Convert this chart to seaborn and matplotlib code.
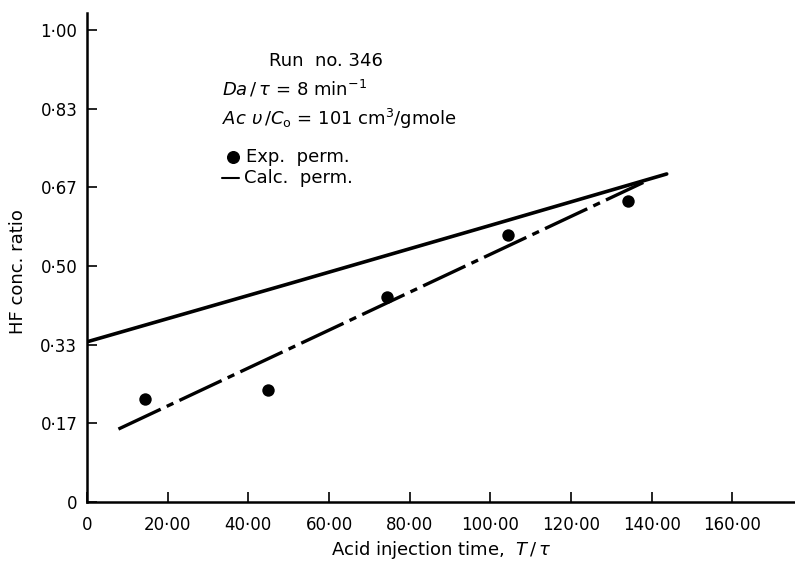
import numpy as np
import pandas as pd
import matplotlib
matplotlib.use("Agg")
import matplotlib.pyplot as plt
import seaborn as sns

# ---- data ----
exp_time = [14.4, 44.8, 74.3, 104.4, 134.2]
exp_ratio = [0.218, 0.237, 0.435, 0.565, 0.638]

calc_time = [0.0, 50.0, 100.0, 143.7]
calc_ratio = [0.339, 0.462, 0.586, 0.695]

fit_time = [7.8, 137.9]
fit_ratio = [0.154, 0.677]

x_ticks = [0, 20, 40, 60, 80, 100, 120, 140, 160]
x_tick_labels = ["0", "20·00", "40·00", "60·00", "80·00", "100·00", "120·00", "140·00", "160·00"]
y_ticks = [0, 1/6, 2/6, 3/6, 4/6, 5/6, 1.0]
y_tick_labels = ["0", "0·17", "0·33", "0·50", "0·67", "0·83", "1·00"]

sns.set_style("white")
plt.rcParams["font.family"] = ["DejaVu Sans"]
plt.rcParams["mathtext.fontset"] = "dejavusans"
plt.rcParams["text.color"] = "black"
plt.rcParams["axes.labelcolor"] = "black"
plt.rcParams["xtick.direction"] = "in"
plt.rcParams["ytick.direction"] = "in"
plt.rcParams["xtick.bottom"] = True
plt.rcParams["ytick.left"] = True

fig = plt.figure(figsize=(7.95, 5.67), dpi=100)
ax = fig.add_axes([0.1094, 0.1152, 0.8906, 0.8624])

exp_df = pd.DataFrame({"t": exp_time, "r": exp_ratio})
calc_df = pd.DataFrame({"t": calc_time, "r": calc_ratio})
fit_df = pd.DataFrame({"t": fit_time, "r": fit_ratio})

sns.lineplot(data=calc_df, x="t", y="r", ax=ax, color="black", linewidth=2.6,
             sort=False, estimator=None)
sns.lineplot(data=fit_df, x="t", y="r", ax=ax, color="black", linewidth=2.4,
             sort=False, estimator=None, linestyle=(0, (14, 2.0, 2.2, 2.0)))
sns.scatterplot(data=exp_df, x="t", y="r", ax=ax, color="black", s=80,
                edgecolor="black", linewidth=0, zorder=5)

ax.set_xlim(0, 175.5)
ax.set_ylim(0, 1.037)
ax.set_xticks(x_ticks)
ax.set_xticklabels(x_tick_labels)
ax.set_yticks(y_ticks)
ax.set_yticklabels(y_tick_labels)
ax.tick_params(axis="both", which="major", direction="in", length=7, width=1.2,
               labelsize=12, colors="black", bottom=True, left=True)
ax.tick_params(axis="x", pad=10)
ax.tick_params(axis="y", pad=7)

for s in ["top", "right"]:
    ax.spines[s].set_visible(False)
for s in ["left", "bottom"]:
    ax.spines[s].set_linewidth(1.8)
    ax.spines[s].set_color("black")

ax.set_xlabel(r"Acid injection time,  $\mathit{T}\,/\,\tau$", fontsize=13, labelpad=4)
ax.set_ylabel("HF conc. ratio", fontsize=13, labelpad=6)
ax.yaxis.set_label_coords(-0.085, 0.47)

# annotation block
fs = 13
ax.text(45, 0.935, "Run  no. 346", fontsize=fs, ha="left", va="center")
ax.text(33.5, 0.875, r"$\mathit{Da}\,/\,\tau$ = 8 min$^{-1}$", fontsize=fs, ha="left", va="center")
ax.text(33.5, 0.812, r"$\mathit{Ac}\ \upsilon\,/\mathit{C}_{\mathrm{o}}$ = 101 cm$^{3}$/gmole",
        fontsize=fs, ha="left", va="center")
ax.scatter([36.2], [0.73], s=70, color="black", zorder=5)
ax.text(39.5, 0.73, "Exp.  perm.", fontsize=fs, ha="left", va="center")
ax.plot([33.5, 37.8], [0.687, 0.687], color="black", linewidth=1.5)
ax.text(38.8, 0.687, "Calc.  perm.", fontsize=fs, ha="left", va="center")

fig.savefig("out.png", dpi=100)
